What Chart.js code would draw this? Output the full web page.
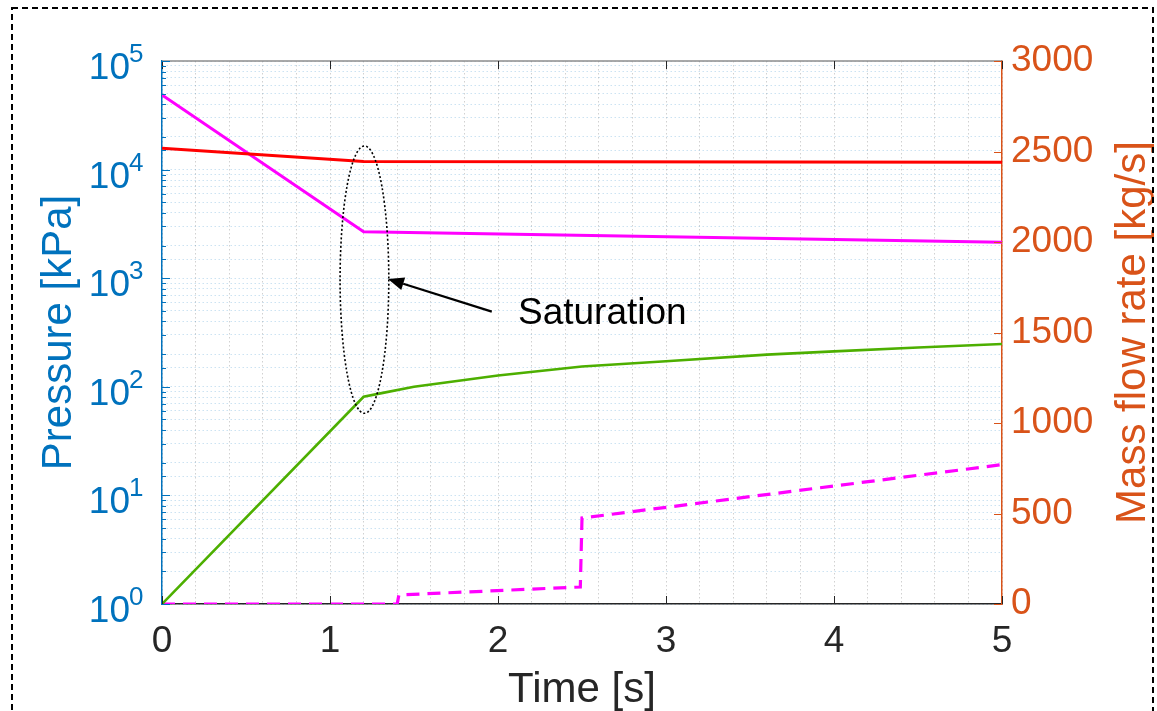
<!DOCTYPE html>
<html>
<head>
<meta charset="utf-8">
<script src="https://cdn.jsdelivr.net/npm/chart.js@4.4.1/dist/chart.umd.min.js"></script>
<style>
  html, body { margin: 0; padding: 0; background: #fff; }
  #wrap { width: 1157px; height: 711px; position: relative; }
</style>
</head>
<body>
<div id="wrap"><canvas id="chart"></canvas></div>
<script>
// ---- data ----
const redTime = [0, 1.2, 5];
const redPressure = [15700, 11850, 11700];          // kPa

const magentaTime = [0, 1.2, 5];
const magentaPressure = [48600, 2680, 2140];        // kPa

const greenTime = [0, 1.2, 1.3, 1.5, 2.0, 2.5, 3.0, 3.6, 4.0, 4.5, 5.0];
const greenPressure = [1, 81, 87, 100, 127, 154, 172, 198, 212, 230, 248]; // kPa

const flowTime = [0, 1.4, 1.41, 2.49, 2.5, 5];
const flowRate = [0, 0, 50, 94, 475, 770];          // kg/s

const xTickValues = [0, 1, 2, 3, 4, 5];
const logDecades = [0, 1, 2, 3, 4, 5];
const flowTicks = [0, 500, 1000, 1500, 2000, 2500, 3000];

// annotation (in data units)
const satEllipse = { tMin: 1.06, tMax: 1.35, pMin: 57, pMax: 16500 };
const satArrow = { t0: 1.963, p0: 492, t1: 1.345, p1: 984 };
const satLabel = { t: 2.119, p: 379, text: 'Saturation' };

const BLUE = '#0072BD';
const ORANGE = '#D95319';
const DARK = '#262626';
const FONT = "'Liberation Sans', Arial, Helvetica, sans-serif";

function pts(xs, ys) {
  return xs.map((x, i) => ({ x: x, y: ys[i] }));
}

Chart.defaults.font.family = FONT;

const decorations = {
  id: 'decorations',
  afterDraw(chart) {
    const ctx = chart.ctx;
    const x = chart.scales.x, yl = chart.scales.y, yr = chart.scales.y1;
    const a = chart.chartArea;
    ctx.save();

    // top box line
    ctx.strokeStyle = '#8c8c8c';
    ctx.lineWidth = 1.5;
    ctx.beginPath();
    ctx.moveTo(a.left, a.top);
    ctx.lineTo(a.right, a.top);
    ctx.stroke();

    // inward x ticks
    ctx.strokeStyle = DARK;
    ctx.lineWidth = 1;
    xTickValues.forEach(v => {
      const px = Math.round(x.getPixelForValue(v)) + 0.5;
      ctx.beginPath();
      ctx.moveTo(px, a.bottom); ctx.lineTo(px, a.bottom - 8);
      ctx.moveTo(px, a.top); ctx.lineTo(px, a.top + 8);
      ctx.stroke();
    });

    // inward left (log) ticks
    ctx.strokeStyle = BLUE;
    yl.ticks.forEach(t => {
      const lg = Math.log10(t.value);
      const major = Math.abs(lg - Math.round(lg)) < 1e-9;
      const py = Math.round(yl.getPixelForValue(t.value)) + 0.5;
      ctx.beginPath();
      ctx.moveTo(a.left, py); ctx.lineTo(a.left + (major ? 8 : 4), py);
      ctx.stroke();
    });

    // inward right ticks
    ctx.strokeStyle = ORANGE;
    flowTicks.forEach(v => {
      const py = Math.round(yr.getPixelForValue(v)) + 0.5;
      ctx.beginPath();
      ctx.moveTo(a.right, py); ctx.lineTo(a.right - 8, py);
      ctx.stroke();
    });

    // left tick labels 10^k
    ctx.fillStyle = BLUE;
    logDecades.forEach(k => {
      const py = yl.getPixelForValue(Math.pow(10, k));
      ctx.font = '37px ' + FONT;
      ctx.textAlign = 'right';
      ctx.textBaseline = 'alphabetic';
      ctx.fillText('10', 130, py + 18);
      ctx.font = '26px ' + FONT;
      ctx.textAlign = 'left';
      ctx.fillText(String(k), 129, py + 1);
    });

    // right axis title (reads bottom to top)
    ctx.save();
    ctx.translate(1133, (a.top + a.bottom) / 2);
    ctx.rotate(-Math.PI / 2);
    ctx.fillStyle = ORANGE;
    ctx.font = '42px ' + FONT;
    ctx.textAlign = 'center';
    ctx.textBaseline = 'middle';
    ctx.fillText('Mass flow rate [kg/s]', 0, 0);
    ctx.restore();

    // saturation ellipse
    const ex0 = x.getPixelForValue(satEllipse.tMin), ex1 = x.getPixelForValue(satEllipse.tMax);
    const ey0 = yl.getPixelForValue(satEllipse.pMax), ey1 = yl.getPixelForValue(satEllipse.pMin);
    ctx.strokeStyle = '#000';
    ctx.lineWidth = 1.6;
    ctx.setLineDash([2, 2.2]);
    ctx.beginPath();
    ctx.ellipse((ex0 + ex1) / 2, (ey0 + ey1) / 2, (ex1 - ex0) / 2, (ey1 - ey0) / 2, 0, 0, Math.PI * 2);
    ctx.stroke();
    ctx.setLineDash([]);

    // arrow
    const ax0 = x.getPixelForValue(satArrow.t0), ay0 = yl.getPixelForValue(satArrow.p0);
    const ax1 = x.getPixelForValue(satArrow.t1), ay1 = yl.getPixelForValue(satArrow.p1);
    const ang = Math.atan2(ay1 - ay0, ax1 - ax0);
    const hl = 16, hw = 6.5;
    const bx = ax1 - hl * Math.cos(ang), by = ay1 - hl * Math.sin(ang);
    ctx.lineWidth = 2.2;
    ctx.beginPath();
    ctx.moveTo(ax0, ay0); ctx.lineTo(bx, by);
    ctx.stroke();
    ctx.fillStyle = '#000';
    ctx.beginPath();
    ctx.moveTo(ax1, ay1);
    ctx.lineTo(bx + hw * Math.sin(ang), by - hw * Math.cos(ang));
    ctx.lineTo(bx - hw * Math.sin(ang), by + hw * Math.cos(ang));
    ctx.closePath();
    ctx.fill();

    // label
    ctx.font = '37px ' + FONT;
    ctx.textAlign = 'left';
    ctx.textBaseline = 'alphabetic';
    ctx.fillText(satLabel.text, x.getPixelForValue(satLabel.t), yl.getPixelForValue(satLabel.p));

    // dashed frame round the figure
    ctx.strokeStyle = '#000';
    ctx.lineWidth = 2;
    ctx.setLineDash([6, 4]);
    ctx.strokeRect(12, 8, 1141, 720);
    ctx.restore();
  }
};

new Chart(document.getElementById('chart'), {
  type: 'line',
  data: {
    datasets: [
      { label: 'p1', data: pts(redTime, redPressure), yAxisID: 'y',
        borderColor: '#FF0000', borderWidth: 3 },
      { label: 'p2', data: pts(magentaTime, magentaPressure), yAxisID: 'y',
        borderColor: '#FF00FF', borderWidth: 3 },
      { label: 'p3', data: pts(greenTime, greenPressure), yAxisID: 'y',
        borderColor: '#4DAF00', borderWidth: 2.6 },
      { label: 'flow', data: pts(flowTime, flowRate), yAxisID: 'y1',
        borderColor: '#FF00FF', borderWidth: 3.2, borderDash: [13, 8] }
    ]
  },
  options: {
    responsive: true,
    maintainAspectRatio: false,
    animation: false,
    layout: { padding: { top: 61, left: 0, right: 0, bottom: 0 } },
    elements: { point: { radius: 0 }, line: { tension: 0, fill: false } },
    plugins: { legend: { display: false }, tooltip: { enabled: false } },
    scales: {
      x: {
        type: 'linear', min: 0, max: 5,
        afterFit: s => { s.height = 107; },
        ticks: {
          stepSize: 0.2, autoSkip: false, maxRotation: 0, padding: 16,
          color: DARK, font: { size: 37 },
          callback: v => Math.abs(v - Math.round(v)) < 1e-6 ? String(Math.round(v)) : ''
        },
        grid: { color: 'rgba(0,0,0,0.18)', lineWidth: 1, drawTicks: false },
        border: { display: true, color: DARK, width: 1.5, dash: [1.5, 2.5] },
        title: { display: true, text: 'Time [s]', color: DARK,
                 font: { size: 42, lineHeight: 1 }, padding: { top: 2, bottom: 0 } }
      },
      y: {
        type: 'logarithmic', position: 'left', min: 1, max: 100000,
        afterFit: s => { s.width = 162; },
        ticks: { display: false, autoSkip: false },
        grid: { color: 'rgba(0,114,189,0.2)', lineWidth: 1, drawTicks: false },
        border: { display: true, color: BLUE, width: 1.5, dash: [1.5, 2.5] },
        title: { display: true, text: 'Pressure [kPa]', color: BLUE,
                 font: { size: 42, lineHeight: 1 }, padding: { top: 38, bottom: 0 } }
      },
      y1: {
        type: 'linear', position: 'right', min: 0, max: 3000,
        afterFit: s => { s.width = 155; },
        ticks: { stepSize: 500, padding: 9, color: ORANGE, font: { size: 37 },
                 callback: v => String(v) },
        grid: { display: false, drawTicks: false },
        border: { display: true, color: ORANGE, width: 1.5 }
      }
    }
  },
  plugins: [decorations]
});
</script>
</body>
</html>
